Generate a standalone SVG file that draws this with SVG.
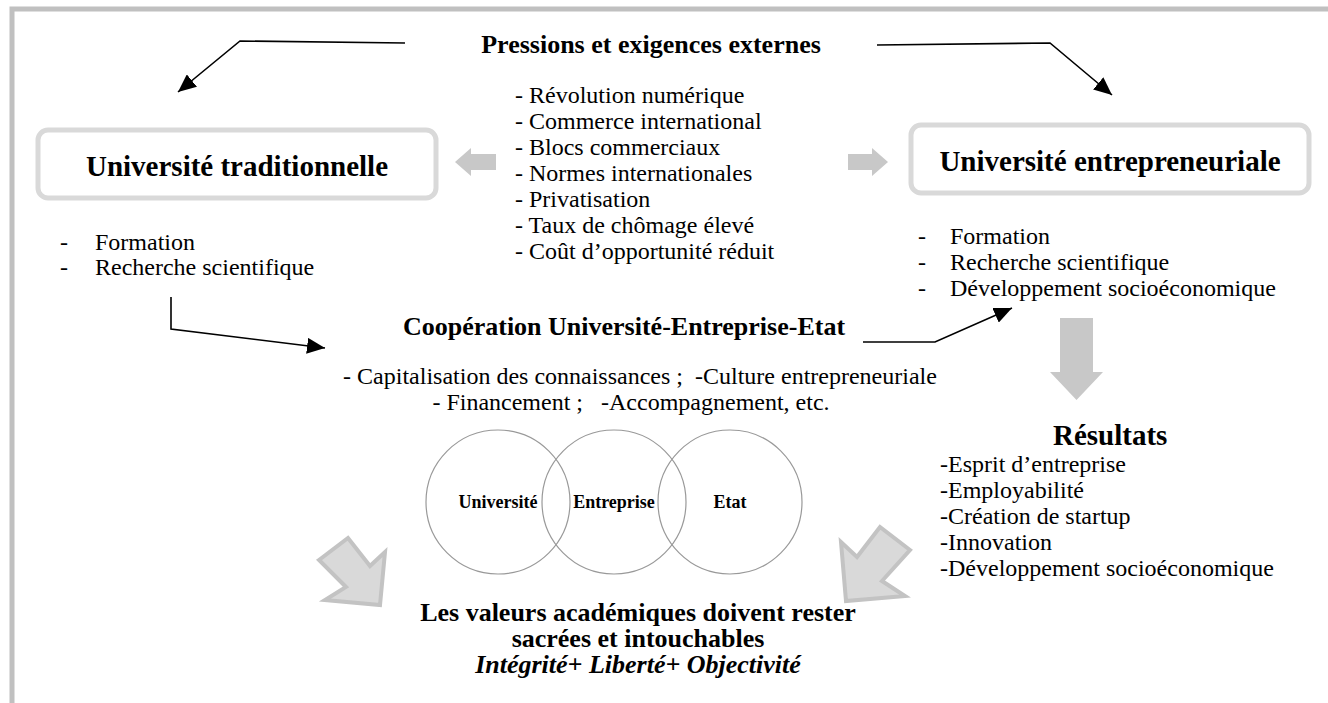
<svg xmlns="http://www.w3.org/2000/svg" width="1328" height="703" viewBox="0 0 1328 703" xml:space="preserve">
<defs>
<marker id="ah" markerWidth="20" markerHeight="16" refX="18" refY="8" orient="auto" markerUnits="userSpaceOnUse">
<path d="M0,0 L18,8 L0,16 z" fill="#000"/>
</marker>
<style>
text{font-family:"Liberation Serif","Times New Roman",serif;fill:#000;white-space:pre}
.h{font-size:26px;font-weight:bold}
.t{font-size:29px;font-weight:bold}
.r{font-size:24px}
.c{font-size:18px;font-weight:bold}
.box{fill:#fff;stroke:#d9d9d9;stroke-width:5}
.con{fill:none;stroke:#000;stroke-width:1.6}
.ga{fill:#c8c8c8}
.bg{fill:#d9d9d9;stroke:#c3c3c3;stroke-width:4;stroke-linejoin:miter}
.circ{fill:none;stroke:#999;stroke-width:1.2}
</style>
</defs>
<rect width="1328" height="703" fill="#fff"/>
<g id="frame" fill="none" stroke="#c0c0c0" stroke-width="5">
<path d="M12,703 L12,9 L1328,9"/>
</g>

<g id="connectors">
<path class="con" d="M405,43 L240,41 L178,92" marker-end="url(#ah)"/>
<path class="con" d="M877,45 L1050,43 L1112,95" marker-end="url(#ah)"/>
<path class="con" d="M171,297 L171,329 L325,348" marker-end="url(#ah)"/>
<path class="con" d="M863,342 L935,342 L1012,308" marker-end="url(#ah)"/>
<polygon class="ga" points="455,162 471,148 471,154 496,154 496,170 471,170 471,176"/>
<polygon class="ga" points="888,162 872,148 872,154 848,154 848,170 872,170 872,176"/>
<polygon class="ga" points="1060,318 1093,318 1093,372 1103,372 1076.5,400 1050,372 1060,372"/>
<polygon class="bg" points="319,560 348,538 370,566 385,552 380,605 325,600 346,587"/>
<polygon class="bg" points="910,550 880,527 857,557 841,542 846,601 905,596 882,581"/>
</g>

<g id="pressions">
<text class="h" x="651" y="53" text-anchor="middle">Pressions et exigences externes</text>
<text class="r" x="515" y="103">- Révolution numérique</text>
<text class="r" x="515" y="129">- Commerce international</text>
<text class="r" x="515" y="155">- Blocs commerciaux</text>
<text class="r" x="515" y="181">- Normes internationales</text>
<text class="r" x="515" y="207">- Privatisation</text>
<text class="r" x="515" y="233">- Taux de chômage élevé</text>
<text class="r" x="515" y="259">- Coût d’opportunité réduit</text>
</g>

<g id="univ-trad">
<rect class="box" x="38" y="130" width="398" height="68" rx="10"/>
<text class="t" x="237" y="176" text-anchor="middle">Université traditionnelle</text>
<text class="r" x="60" y="250">-</text>
<text class="r" x="95" y="250">Formation</text>
<text class="r" x="60" y="275">-</text>
<text class="r" x="95" y="275">Recherche scientifique</text>
</g>

<g id="univ-entr">
<rect class="box" x="911" y="125" width="398" height="68" rx="10"/>
<text class="t" x="1110" y="171" text-anchor="middle">Université entrepreneuriale</text>
<text class="r" x="918" y="244">-</text>
<text class="r" x="950" y="244">Formation</text>
<text class="r" x="918" y="270">-</text>
<text class="r" x="950" y="270">Recherche scientifique</text>
<text class="r" x="918" y="296">-</text>
<text class="r" x="950" y="296">Développement socioéconomique</text>
</g>

<g id="cooperation">
<text class="h" x="624" y="335" text-anchor="middle">Coopération Université-Entreprise-Etat</text>
<text class="r" x="640" y="384" text-anchor="middle">- Capitalisation des connaissances ;  -Culture entrepreneuriale</text>
<text class="r" x="631" y="410" text-anchor="middle">- Financement ;   -Accompagnement, etc.</text>
</g>

<g id="triple-helix">
<circle class="circ" cx="498" cy="502" r="72"/>
<circle class="circ" cx="614" cy="502" r="72"/>
<circle class="circ" cx="730" cy="502" r="72"/>
<text class="c" x="498" y="508" text-anchor="middle">Université</text>
<text class="c" x="614" y="508" text-anchor="middle">Entreprise</text>
<text class="c" x="730" y="508" text-anchor="middle">Etat</text>
</g>

<g id="resultats">
<text class="t" x="1053" y="445" font-size="30">Résultats</text>
<text class="r" x="940" y="472">-Esprit d’entreprise</text>
<text class="r" x="940" y="498">-Employabilité</text>
<text class="r" x="940" y="524">-Création de startup</text>
<text class="r" x="940" y="550">-Innovation</text>
<text class="r" x="940" y="576">-Développement socioéconomique</text>
</g>

<g id="valeurs">
<text class="h" x="638" y="621" text-anchor="middle">Les valeurs académiques doivent rester</text>
<text class="h" x="638" y="647" text-anchor="middle">sacrées et intouchables</text>
<text class="h" x="638" y="673" text-anchor="middle" font-style="italic">Intégrité+ Liberté+ Objectivité</text>
</g>
</svg>
